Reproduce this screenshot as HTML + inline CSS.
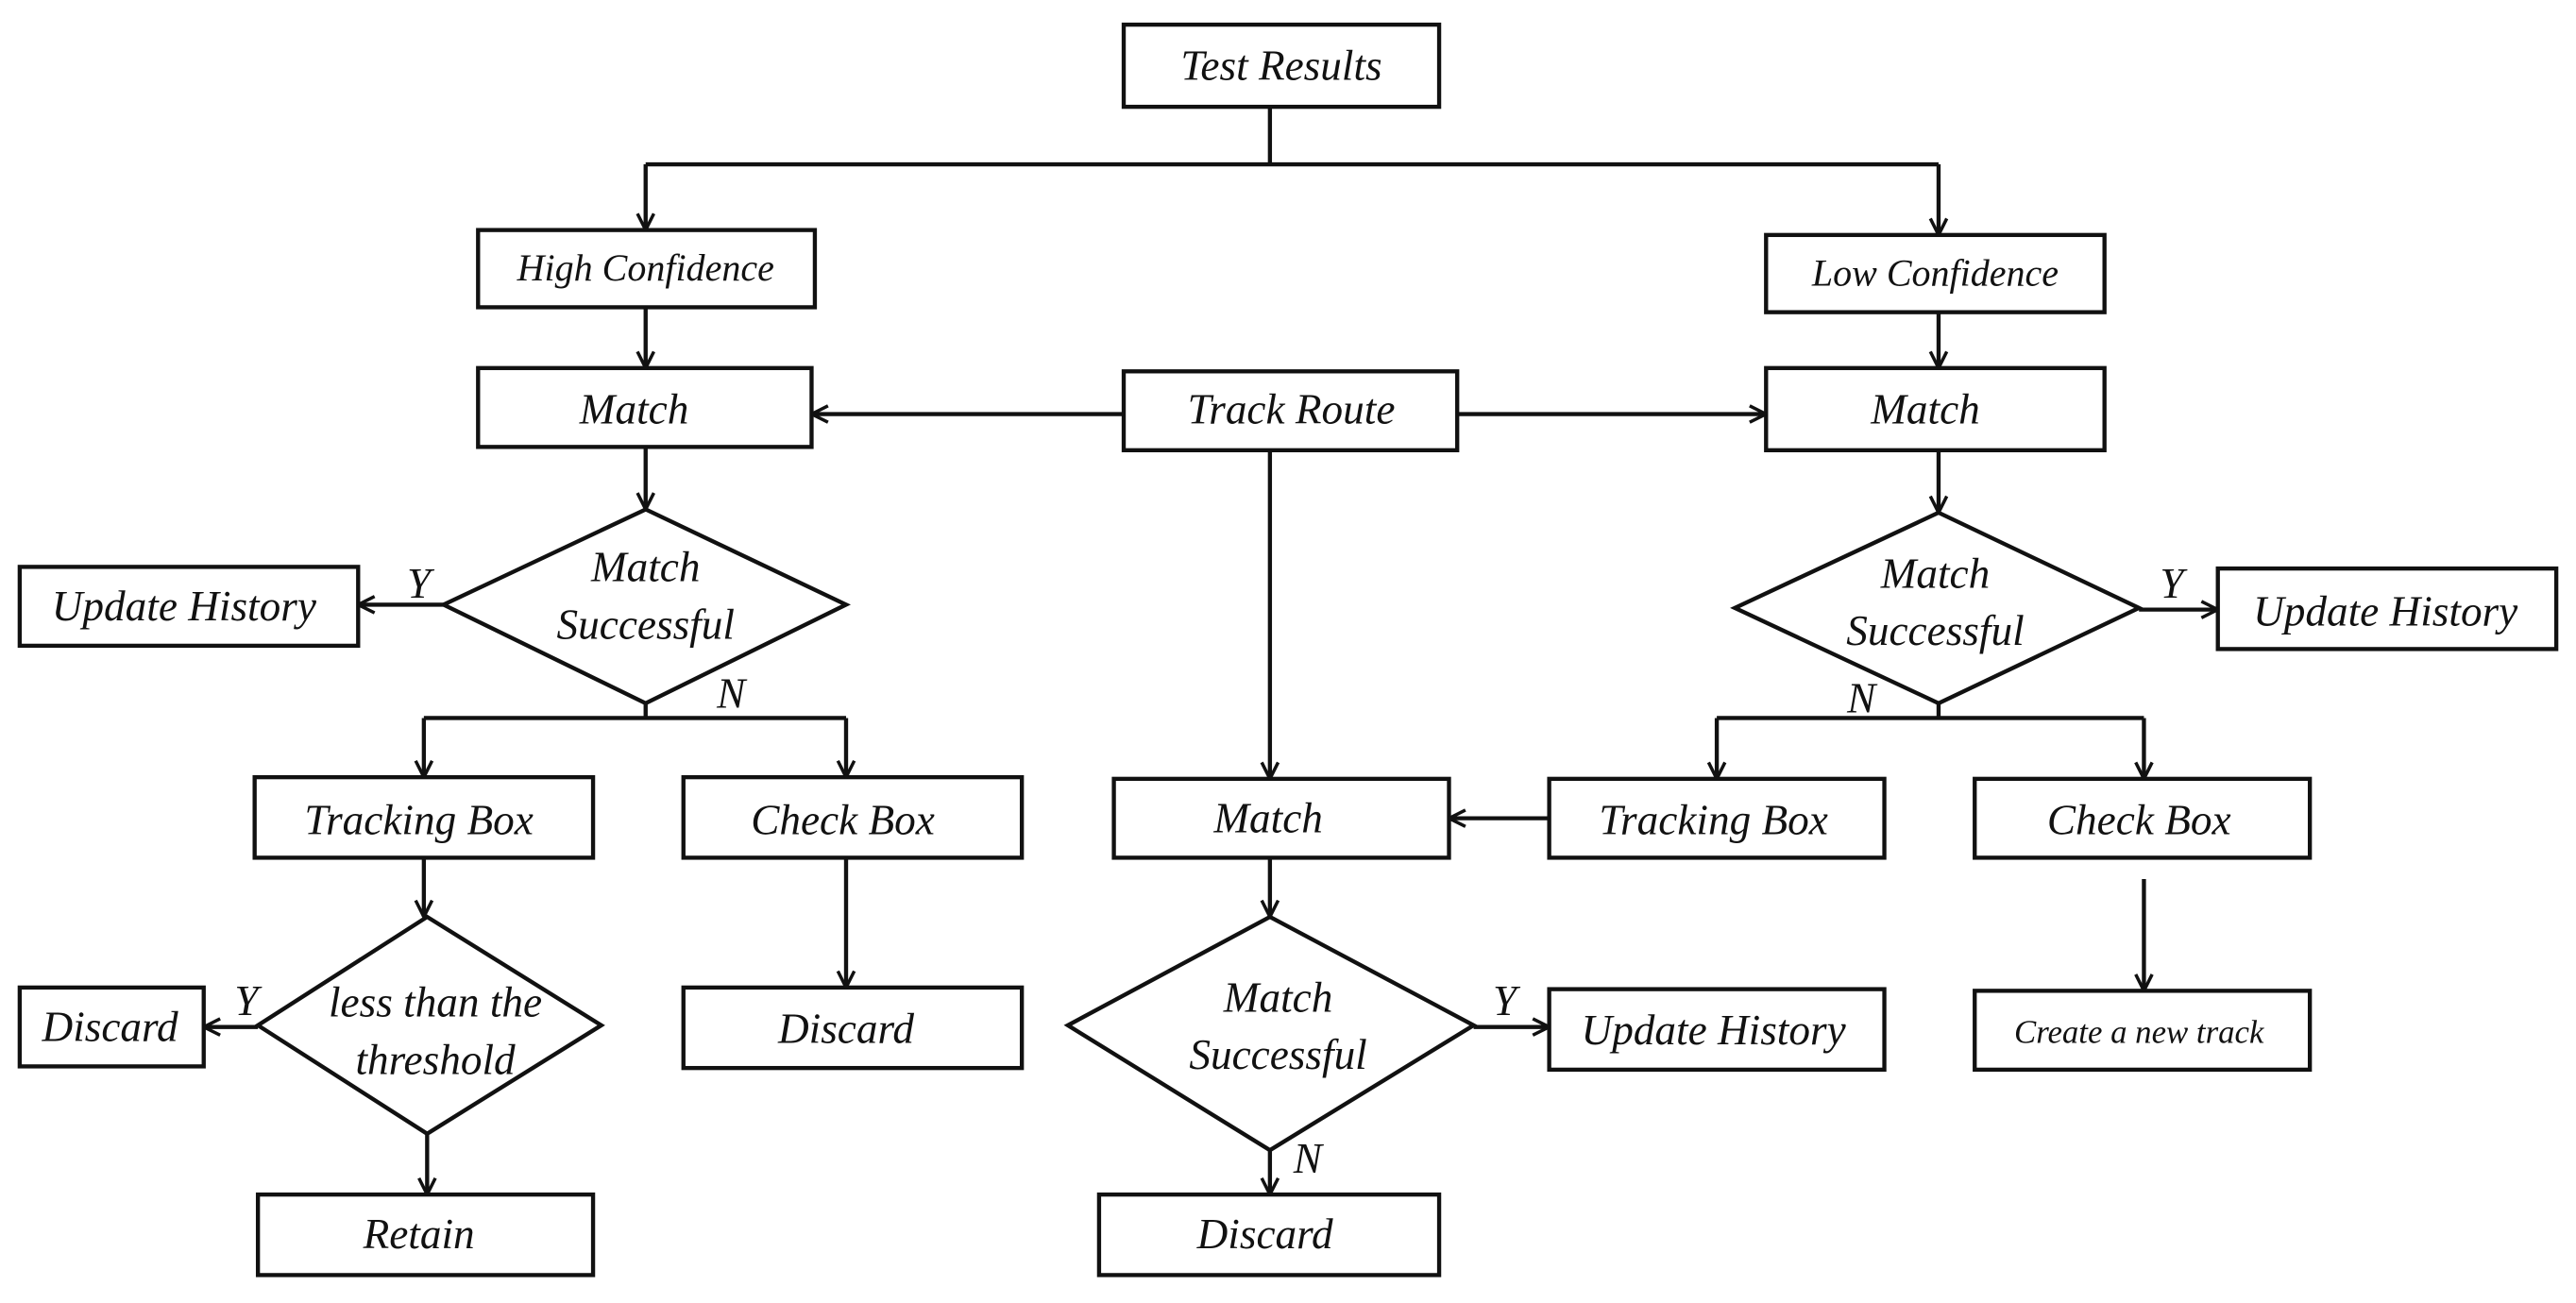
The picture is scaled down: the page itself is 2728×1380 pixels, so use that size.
<!DOCTYPE html>
<html><head><meta charset="utf-8"><style>
html,body{margin:0;padding:0;background:#fff;}
svg{display:block}
text{font-family:"Liberation Serif",serif;font-style:italic;fill:#111;text-anchor:middle;dominant-baseline:central;}
</style></head><body>
<svg width="2728" height="1380" viewBox="0 0 1568 793" preserveAspectRatio="none" xmlns="http://www.w3.org/2000/svg">
<defs>
<marker id="a" viewBox="0 0 12 12" refX="11" refY="6" markerWidth="12" markerHeight="12" markerUnits="userSpaceOnUse" orient="auto">
<path d="M1,1 L11,6 L1,11" fill="none" stroke="#111" stroke-width="2"/>
</marker>
</defs>
<g fill="#fff" stroke="#111" stroke-width="2.5">
<rect x="684" y="15" width="192" height="50"/>
<rect x="291" y="140" width="205" height="47"/>
<rect x="1075" y="143" width="206" height="47"/>
<rect x="291" y="224" width="203" height="48"/>
<rect x="684" y="226" width="203" height="48"/>
<rect x="1075" y="224" width="206" height="50"/>
<rect x="12" y="345" width="206" height="48"/>
<rect x="1350" y="346" width="206" height="49"/>
<rect x="155" y="473" width="206" height="49"/>
<rect x="416" y="473" width="206" height="49"/>
<rect x="678" y="474" width="204" height="48"/>
<rect x="943" y="474" width="204" height="48"/>
<rect x="1202" y="474" width="204" height="48"/>
<rect x="12" y="601" width="112" height="48"/>
<rect x="416" y="601" width="206" height="49"/>
<rect x="943" y="602" width="204" height="49"/>
<rect x="1202" y="603" width="204" height="48"/>
<rect x="157" y="727" width="204" height="49"/>
<rect x="669" y="727" width="207" height="49"/>
<polygon points="393,310 515,368 393,428 270,368"/>
<polygon points="1180,312 1302,370 1180,428 1056,370"/>
<polygon points="260,558 366,624 260,690 157,624"/>
<polygon points="773,558 897,624 773,700 650,624"/>
</g>
<g fill="none" stroke="#111" stroke-width="2.5">
<path d="M773,65 V100 M393,100 H1180"/>
<path d="M393,100 V140" marker-end="url(#a)"/>
<path d="M1180,100 V143" marker-end="url(#a)"/>
<path d="M393,187 V224" marker-end="url(#a)"/>
<path d="M1180,190 V224" marker-end="url(#a)"/>
<path d="M684,252 H494" marker-end="url(#a)"/>
<path d="M887,252 H1075" marker-end="url(#a)"/>
<path d="M393,272 V310" marker-end="url(#a)"/>
<path d="M1180,274 V312" marker-end="url(#a)"/>
<path d="M270,368 H218" marker-end="url(#a)"/>
<path d="M1302,371 H1350" marker-end="url(#a)"/>
<path d="M393,428 V437 M258,437 H515 M1180,428 V437 M1045,437 H1305"/>
<path d="M258,437 V473" marker-end="url(#a)"/>
<path d="M515,437 V473" marker-end="url(#a)"/>
<path d="M1045,437 V474" marker-end="url(#a)"/>
<path d="M1305,437 V474" marker-end="url(#a)"/>
<path d="M773,274 V474" marker-end="url(#a)"/>
<path d="M943,498 H882" marker-end="url(#a)"/>
<path d="M258,522 V558" marker-end="url(#a)"/>
<path d="M515,522 V601" marker-end="url(#a)"/>
<path d="M773,522 V558" marker-end="url(#a)"/>
<path d="M1305,535 V603" marker-end="url(#a)"/>
<path d="M157,625 H124" marker-end="url(#a)"/>
<path d="M897,625 H943" marker-end="url(#a)"/>
<path d="M260,690 V727" marker-end="url(#a)"/>
<path d="M773,700 V727" marker-end="url(#a)"/>
</g>
<g font-size="26">
<text x="780" y="40">Test Results</text>
<text x="393" y="163" font-size="23">High Confidence</text>
<text x="1178" y="166" font-size="23">Low Confidence</text>
<text x="386" y="249">Match</text>
<text x="786" y="249">Track Route</text>
<text x="1172" y="249">Match</text>
<text x="112" y="369">Update History</text>
<text x="1452" y="372">Update History</text>
<text x="393" y="345">Match</text>
<text x="393" y="380">Successful</text>
<text x="1178" y="349">Match</text>
<text x="1178" y="384">Successful</text>
<text x="255" y="355">Y</text>
<text x="1322" y="355">Y</text>
<text x="445" y="422">N</text>
<text x="1133" y="425">N</text>
<text x="255" y="499">Tracking Box</text>
<text x="513" y="499">Check Box</text>
<text x="772" y="498">Match</text>
<text x="1043" y="499">Tracking Box</text>
<text x="1302" y="499">Check Box</text>
<text x="265" y="610">less than the</text>
<text x="265" y="645">threshold</text>
<text x="150" y="609">Y</text>
<text x="67" y="625">Discard</text>
<text x="515" y="626">Discard</text>
<text x="778" y="607">Match</text>
<text x="778" y="642">Successful</text>
<text x="916" y="609">Y</text>
<text x="1043" y="627">Update History</text>
<text x="1302" y="628" font-size="20">Create a new track</text>
<text x="796" y="705">N</text>
<text x="255" y="751">Retain</text>
<text x="770" y="751">Discard</text>
</g>
</svg>
</body></html>
